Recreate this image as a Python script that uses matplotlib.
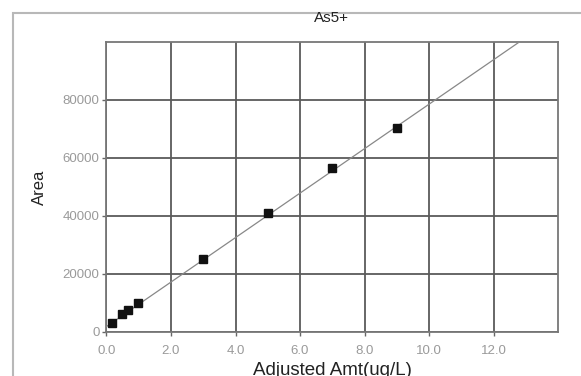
import matplotlib
matplotlib.use("Agg")
import matplotlib.pyplot as plt
from matplotlib.patches import Rectangle

plt.rcParams['font.family'] = ['Liberation Sans', 'DejaVu Sans']

# Data
amt = [0.16, 0.47, 0.67, 0.98, 3.0, 5.0, 7.0, 9.0]
area = [3100, 6300, 7500, 10100, 25300, 41200, 56600, 70300]
fit_x = [0.0, 12.8]
fit_y = [1900, 100000]
xticks = [0, 2, 4, 6, 8, 10, 12]
xticklabels = ["0.0", "2.0", "4.0", "6.0", "8.0", "10.0", "12.0"]
yticks = [0, 20000, 40000, 60000, 80000]
yticklabels = ["0", "20000", "40000", "60000", "80000"]

W, H = 581, 376
fig = plt.figure(figsize=(W / 100, H / 100), dpi=100)
fig.patch.set_facecolor("white")

# outer frame
fig.patches.append(Rectangle((13 / W, -0.1), 1.2, (H - 13) / H + 0.1,
                             transform=fig.transFigure, fill=False,
                             edgecolor="#b8b8b8", linewidth=1.5, zorder=0))

ax = fig.add_axes([106.5 / W, 44 / H, (558 - 106.5) / W, (332 - 42) / H])
ax.set_xlim(0, 14)
ax.set_ylim(0, 100000)

ax.plot(fit_x, fit_y, color="#888888", linewidth=0.9, zorder=3)
ax.plot(amt, area, linestyle="none", marker="s", markersize=6,
        color="#111111", zorder=4)

ax.set_xticks(xticks)
ax.set_xticklabels(xticklabels)
ax.set_yticks(yticks)
ax.set_yticklabels(yticklabels)
ax.grid(True, color="#5a5a5a", linewidth=1.3)
ax.set_axisbelow(True)
for s in ax.spines.values():
    s.set_color("#777777")
    s.set_linewidth(1.3)
ax.tick_params(axis="both", labelsize=9.5, labelcolor="#9a9a9a",
               color="#666666", length=3, width=1)
ax.tick_params(axis="x", pad=6)
ax.tick_params(axis="y", pad=2)

fig.text(331 / W, 1 - 18 / H, "As5+", fontsize=11, color="#222222",
         ha="center", va="center")
ax.set_xlabel("Adjusted Amt(ug/L)", fontsize=13.5, color="#222222")
ax.xaxis.set_label_coords(0.5, -0.105)
ax.set_ylabel("Area", fontsize=12, color="#222222")
ax.yaxis.set_label_coords(-0.132, 0.5)

fig.savefig("out.png", dpi=100)
